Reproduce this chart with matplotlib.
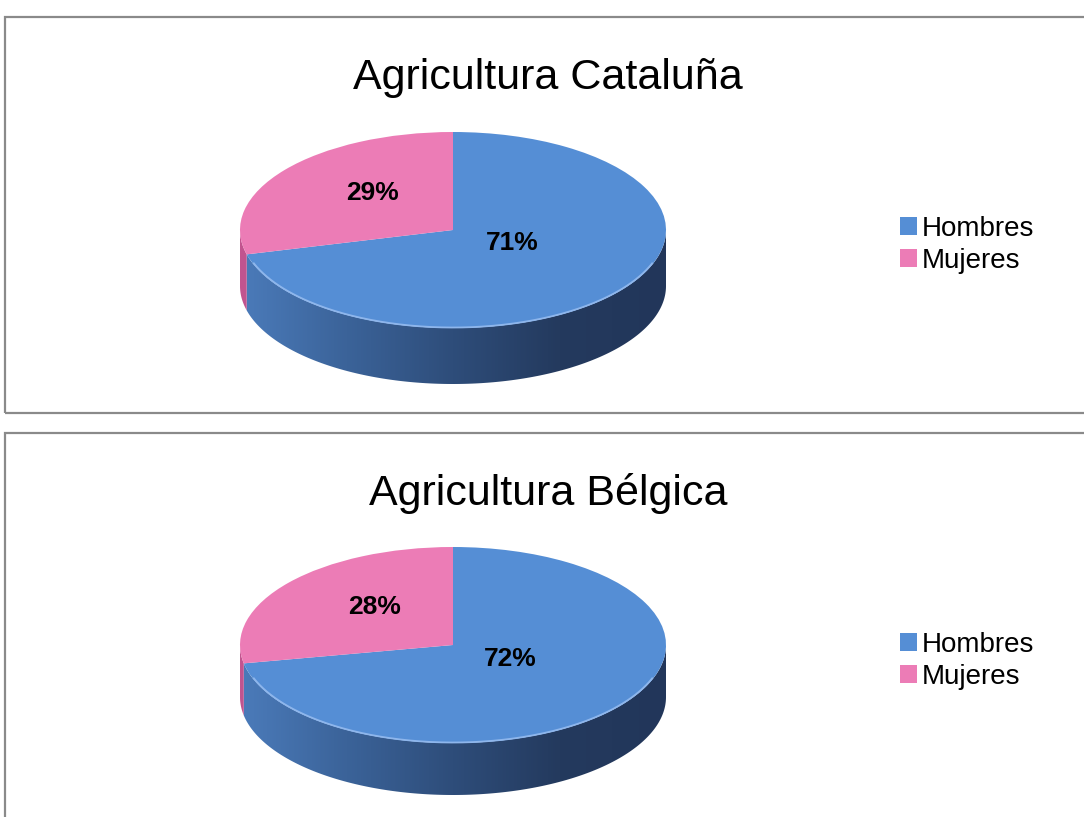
import numpy as np
import matplotlib.pyplot as plt
from matplotlib.patches import Polygon, Rectangle
from matplotlib.colors import LinearSegmentedColormap

plt.rcParams['font.family'] = ['Liberation Sans', 'DejaVu Sans']

# data
categories = ['Hombres', 'Mujeres']
titles = ['Agricultura Cataluña', 'Agricultura Bélgica']
cataluna = [71, 29]
belgica = [72, 28]

W, H = 1084, 817
fig = plt.figure(figsize=(10.84, 8.17), dpi=100)

top_colors = ['#558ED5', '#EC7CB6']
side_cmaps = [
    LinearSegmentedColormap.from_list('hside', ['#4B7BBA', '#3B6399', '#2E4D7A', '#243A5E', '#22365A']),
    LinearSegmentedColormap.from_list('mside', ['#C25590', '#8F3C68']),
]
label_dist = [0.35, 0.48]


def pie3d(values, cx, cy, rx, ry, depth):
    d = depth / ry
    m = 0.05
    left = cx - (1 + m) * rx
    right = cx + (1 + m) * rx
    top = cy - (1 + m) * ry
    bottom = cy + (1 + d + m) * ry
    ax = fig.add_axes([left / W, 1 - bottom / H, (right - left) / W, (bottom - top) / H])

    wedges, _, autotexts = ax.pie(values, startangle=90, counterclock=False,
                                  colors=top_colors, autopct='%.0f%%', pctdistance=0.5,
                                  wedgeprops=dict(zorder=3, linewidth=0),
                                  textprops=dict(fontsize=19, fontweight='bold', color='black', zorder=5))

    # move the percentages a bit, like the original
    for w, txt, r in zip(wedges, autotexts, label_dist):
        mid = np.radians((w.theta1 + w.theta2) / 2)
        txt.set_position((r * np.cos(mid), r * np.sin(mid) + 0.08))

    # side of the cylinder (front half only)
    for w, cmap in zip(wedges, side_cmaps):
        for shift in (-360, 0, 360):
            lo = max(w.theta1 + shift, 180)
            hi = min(w.theta2 + shift, 360)
            if hi <= lo:
                continue
            t = np.radians(np.linspace(lo, hi, 200))
            xs = np.cos(t)
            ys = np.sin(t)
            pts = np.vstack([np.column_stack([xs, ys]),
                             np.column_stack([xs[::-1], ys[::-1] - d])])
            poly = Polygon(pts, closed=True, facecolor='none', edgecolor='none')
            ax.add_patch(poly)
            grad = np.linspace(0, 1, 256).reshape(1, -1)
            im = ax.imshow(grad, cmap=cmap, extent=[-1, 1, -1 - d, 0.2],
                           aspect='auto', zorder=1, interpolation='bilinear')
            im.set_clip_path(poly)

    # light rim on the front edge of the top face
    t = np.radians(np.linspace(200, 340, 200))
    ax.plot(np.cos(t) * 0.995, np.sin(t) * 0.995, color='#8EB6EC', lw=1.3, zorder=4)

    ax.set_aspect('auto')
    ax.set_xlim(-1 - m, 1 + m)
    ax.set_ylim(-1 - d - m, 1 + m)
    ax.axis('off')
    return wedges


panels = [
    (titles[0], cataluna, 17, 413, 230, 56),
    (titles[1], belgica, 433, 830, 645, 52),
]

for title, vals, ptop, pbot, cy, depth in panels:
    fig.add_artist(Rectangle((5 / W, 1 - pbot / H), 1.2, (pbot - ptop) / H,
                             transform=fig.transFigure, fill=False,
                             edgecolor='#8A8A8A', lw=1.6))
    fig.text(548 / W, 1 - (ptop + 61) / H, title, ha='center', va='center', fontsize=31)
    wedges = pie3d(vals, 453, cy, 213, 98, depth)
    fig.legend(wedges, categories, loc='center left',
               bbox_to_anchor=(900 / W, 1 - (ptop + 228) / H),
               frameon=False, fontsize=20, handlelength=0.6, handleheight=0.6,
               handletextpad=0.2, labelspacing=0.22, borderpad=0, borderaxespad=0)

fig.savefig('out.png', dpi=100)
